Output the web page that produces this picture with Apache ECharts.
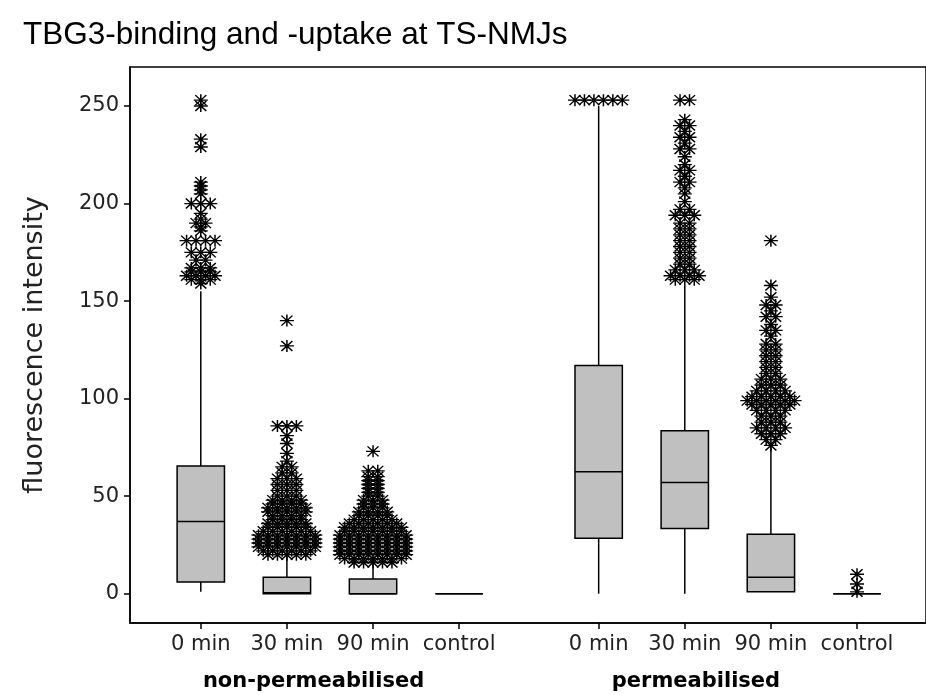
<!DOCTYPE html>
<html>
<head>
<meta charset="utf-8">
<script src="https://cdn.jsdelivr.net/npm/echarts@6/dist/echarts.min.js"></script>
<style>
html,body{margin:0;padding:0;background:#fff;}
#chart{width:926px;height:695px;}
</style>
</head>
<body>
<div id="chart"></div>
<script>
// ---- data ----
const categories = ['0 min', '30 min', '90 min', 'control', '0 min', '30 min', '90 min', 'control'];
const categoryPos = [1, 2, 3, 4, 5.62, 6.62, 7.62, 8.62];
const groupLabels = ['non-permeabilised', 'permeabilised'];
const groupPos = [2.31, 6.75];
const yTicks = [0, 50, 100, 150, 200, 250];

const whiskerLow  = [1,    0,   0,   0, 0,    0,    1,    0];
const q1          = [6,    0,   0,   0, 28.5, 33.5, 1,    0];
const median      = [37,   0.5, 0,   0, 62.5, 57,   8.5,  0];
const q3          = [65.5, 8.5, 7.5, 0, 117,  83.5, 30.5, 0];
const whiskerHigh = [155,  19,  15,  0, 250,  158,  75,   0];

// outliers: [value, number of tied points]
const outliers0 = [[253,1],[250,1],[233,1],[229,1],[211,1],[209,1],[207,1],[205,1],[200,3],[195,1],[192,1],[190,2],[188,1],[186,1],
  [181,4],[175,3],[171,2],[167,3],[165,3],[163,4],[161,3],[159,1]];
const outliers1 = [[140,1],[127,1],[86,3],[81,1],[77,1],[72,1],[68,1],[65,2],[62,2],[59,3],[56,3],[53,3],[50,3],[48,4],[46,4],
  [44,5],[42,5],[40,4],[38,4],[36,5],[34,5],[32,6],[30,7],[28,7],[26,7],[24,7],[22,6],[20,5]];
const outliers2 = [[73,1],[63,2],[60,2],[58,2],[56,2],[54,2],[52,2],[50,2],[48,3],[46,3],[44,3],[42,4],[40,4],[38,5],[36,6],
  [34,7],[32,7],[30,8],[28,8],[26,8],[24,8],[22,8],[20,8],[18,7],[16,5]];
const outliers3 = [];
const outliers4 = [[253,6]];
const outliers5 = [[253,2],[243,1],[240,2],[237,1],[234,2],[231,1],[228,2],[224,1],[220,1],[217,2],[214,1],[211,2],[208,1],[205,1],
  [201,1],[197,2],[194,3],[190,2],[187,2],[184,2],[181,2],[178,2],[175,2],[172,2],[169,2],[166,3],[163,4],[161,3]];
const outliers6 = [[181,1],[158,1],[152,1],[148,2],[145,1],[142,2],[138,1],[135,2],[132,1],[128,2],[125,2],[122,2],[119,2],
  [116,2],[113,2],[110,3],[107,3],[104,4],[101,5],[99,6],[97,5],[94,4],[91,3],[88,3],[85,4],[82,3],[79,2],[76,1]];
const outliers7 = [[10,1],[5,1],[1,1]];
const outlierSets = [outliers0, outliers1, outliers2, outliers3, outliers4, outliers5, outliers6, outliers7];

// ---- build ----
const boxData = categoryPos.map((p, i) => [p, whiskerLow[i], q1[i], median[i], q3[i], whiskerHigh[i]]);
const tieStep = 0.11; // side-by-side offset for tied values (axis units)
const scatterData = [];
outlierSets.forEach((set, i) => {
  set.forEach(([v, n]) => {
    for (let k = 0; k < n; k++) {
      scatterData.push([categoryPos[i] + (k - (n - 1) / 2) * tieStep, v]);
    }
  });
});

const labelMap = {};
categoryPos.forEach((p, i) => { labelMap[p] = categories[i]; });
const groupMap = {};
groupPos.forEach((p, i) => { groupMap[p] = groupLabels[i]; });

const BOX_HALF = 0.275;
const star = 'path://M7,0L7,12M0,6L14,6M1.5,1L12.5,11M1.5,11L12.5,1';

const chart = echarts.init(document.getElementById('chart'));
chart.setOption({
  animation: false,
  backgroundColor: '#fff',
  title: {
    text: 'TBG3-binding and -uptake at TS-NMJs',
    left: 18, top: 14,
    textStyle: { fontFamily: 'Liberation Sans', fontSize: 31.5, fontWeight: 'normal', color: '#000' }
  },
  grid: {
    left: 130, top: 67, right: -10, bottom: 72,
    show: true, borderColor: '#000', borderWidth: 1.5, backgroundColor: 'transparent'
  },
  xAxis: [{
    type: 'value', min: 0.178, max: 9.421,
    splitLine: { show: false },
    axisLine: { show: true, onZero: false, lineStyle: { color: '#000', width: 1.5 } },
    axisTick: { show: true, inside: false, length: 6, lineStyle: { color: '#000', width: 1.5 }, customValues: categoryPos },
    axisLabel: {
      customValues: categoryPos, margin: 11,
      fontFamily: 'DejaVu Sans', fontSize: 21, color: '#222',
      formatter: v => labelMap[v] || ''
    }
  }, {
    type: 'value', min: 0.178, max: 9.421, position: 'bottom',
    splitLine: { show: false },
    axisLine: { show: false, onZero: false }, axisTick: { show: false },
    axisLabel: {
      customValues: groupPos, margin: 48,
      fontFamily: 'DejaVu Sans', fontWeight: 'bold', fontSize: 21, color: '#000',
      formatter: v => groupMap[v] || ''
    }
  }],
  yAxis: {
    type: 'value', min: -15, max: 270,
    name: 'fluorescence intensity', nameLocation: 'middle', nameGap: 82,
    nameTextStyle: { fontFamily: 'DejaVu Sans', fontSize: 27, color: '#222' },
    splitLine: { show: false },
    axisLine: { show: true, onZero: false, lineStyle: { color: '#000', width: 1.5 } },
    axisTick: { show: true, length: 6, lineStyle: { color: '#000', width: 1.5 }, customValues: yTicks },
    axisLabel: { customValues: yTicks, margin: 11, fontFamily: 'DejaVu Sans', fontSize: 21, color: '#222' }
  },
  series: [{
    type: 'custom',
    xAxisIndex: 0,
    data: boxData,
    encode: { x: 0, y: [1, 2, 3, 4, 5] },
    renderItem: function (params, api) {
      const x = api.value(0);
      const lo = api.coord([x, api.value(1)]);
      const b1 = api.coord([x - BOX_HALF, api.value(2)]);
      const md = api.coord([x - BOX_HALF, api.value(3)]);
      const b3 = api.coord([x + BOX_HALF, api.value(4)]);
      const hi = api.coord([x, api.value(5)]);
      const ls = { stroke: '#000', lineWidth: 1.5 };
      return {
        type: 'group',
        children: [
          { type: 'line', shape: { x1: hi[0], y1: hi[1], x2: hi[0], y2: b3[1] }, style: ls },
          { type: 'line', shape: { x1: lo[0], y1: lo[1], x2: lo[0], y2: b1[1] }, style: ls },
          { type: 'rect', shape: { x: b1[0], y: b3[1], width: b3[0] - b1[0], height: b1[1] - b3[1] },
            style: { fill: '#c0c0c0', stroke: '#000', lineWidth: 1.5 } },
          { type: 'line', shape: { x1: md[0], y1: md[1], x2: b3[0], y2: md[1] }, style: ls }
        ]
      };
    },
    z: 2
  }, {
    type: 'scatter',
    xAxisIndex: 0,
    data: scatterData,
    symbol: star,
    symbolSize: [14, 12],
    itemStyle: { color: 'none', borderColor: '#000', borderWidth: 1.4, opacity: 1 },
    z: 3
  }]
});
</script>
</body>
</html>
